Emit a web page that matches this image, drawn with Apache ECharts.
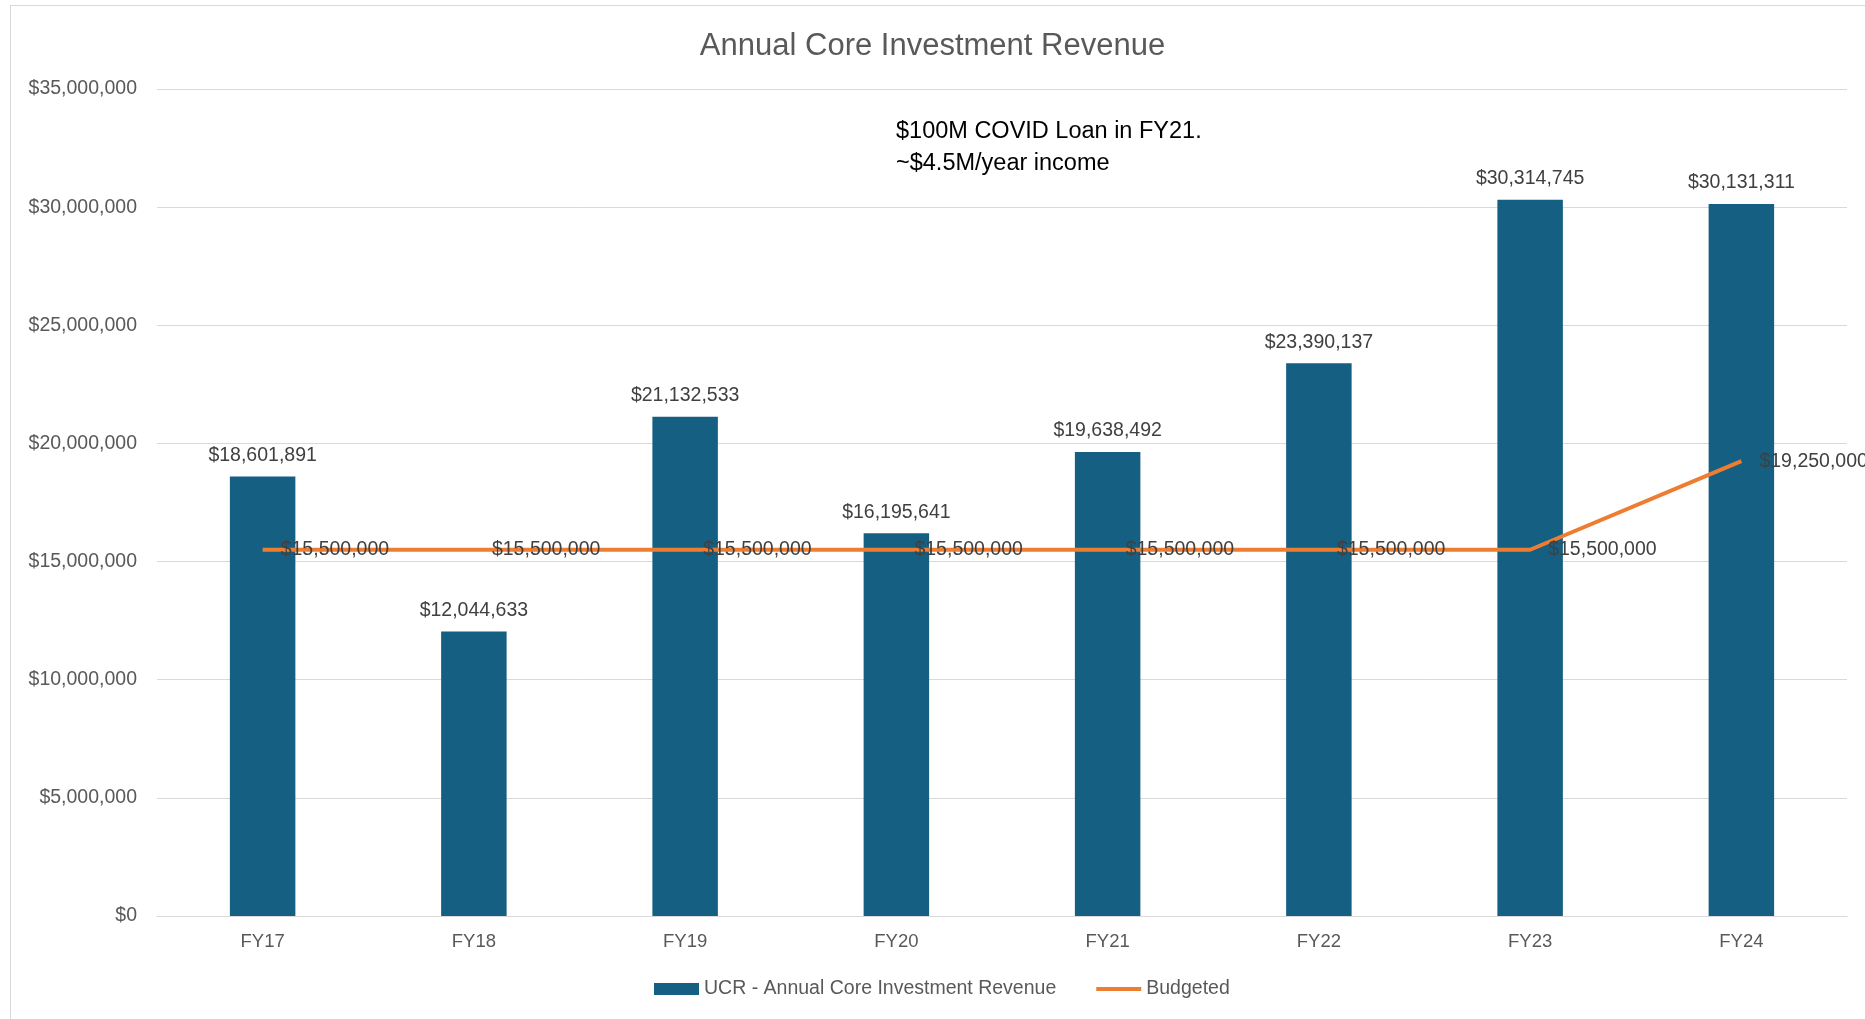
<!DOCTYPE html>
<html><head><meta charset="utf-8">
<script src="https://cdn.jsdelivr.net/npm/echarts@6/dist/echarts.min.js"></script>
<style>
html,body{margin:0;padding:0;background:#fff;}
#c{position:absolute;left:0;top:0;width:1865px;height:1019px;}
#frame{position:absolute;left:10px;top:5px;width:1870px;height:1040px;border:1px solid #d9d9d9;pointer-events:none;}
</style></head>
<body>
<div id="c"></div>
<div id="frame"></div>
<script>
var categories = ['FY17','FY18','FY19','FY20','FY21','FY22','FY23','FY24'];
var revenue = [18601891, 12044633, 21132533, 16195641, 19638492, 23390137, 30314745, 30131311];
var budgeted = [15500000, 15500000, 15500000, 15500000, 15500000, 15500000, 15500000, 19250000];
var yTicks = [0, 5000000, 10000000, 15000000, 20000000, 25000000, 30000000, 35000000];

function money(v){ return '$' + Math.round(v).toString().replace(/\B(?=(\d{3})+(?!\d))/g, ','); }

var chart = echarts.init(document.getElementById('c'), null, {renderer:'canvas'});
var F = 'Liberation Sans, Arial, sans-serif';
chart.setOption({
  animation:false,
  backgroundColor:'#fff',
  title:{text:'Annual Core Investment Revenue', left:'center', top:26,
    textStyle:{fontFamily:F, fontSize:31, fontWeight:'normal', color:'#595959'}},
  grid:{left:157, right:18, top:89, bottom:103},
  legend:{bottom:15, left:649, itemGap:40,
    textStyle:{fontFamily:F, fontSize:19.5, color:'#595959'},
    data:[{name:'UCR - Annual Core Investment Revenue', icon:'rect', itemStyle:{color:'#155F83'}},
          {name:'Budgeted', icon:'path://M0,0 L47,0 L47,4 L0,4 Z', itemStyle:{color:'#ED7D31'}}],
    itemWidth:45, itemHeight:12},
  xAxis:{type:'category', data:categories,
    axisLine:{lineStyle:{color:'#d9d9d9', width:1}}, axisTick:{show:false},
    axisLabel:{fontFamily:F, fontSize:18.5, color:'#595959', margin:16}},
  yAxis:{type:'value', min:0, max:35000000, interval:5000000,
    axisLine:{show:false}, axisTick:{show:false},
    splitLine:{lineStyle:{color:'#d9d9d9', width:1}},
    axisLabel:{fontFamily:F, fontSize:19.5, color:'#595959', margin:20,
      formatter:function(v){ return money(v); }}},
  series:[
    {name:'UCR - Annual Core Investment Revenue', type:'bar', data:revenue, barWidth:'31%',
      itemStyle:{color:'#155F83'},
      label:{show:true, position:'top', distance:11, fontFamily:F, fontSize:19.5, color:'#404040',
        formatter:function(p){ return money(p.value); }}},
    {name:'Budgeted', type:'line', data:budgeted, symbol:'circle', symbolSize:0.1, showSymbol:true,
      lineStyle:{color:'#ED7D31', width:4}, itemStyle:{color:'#ED7D31'},
      labelLayout:{hideOverlap:false},
      label:{show:true, position:'right', distance:18, fontFamily:F, fontSize:19.5, color:'#404040',
        formatter:function(p){ return money(p.value); }}, z:3}
  ],
  graphic:[
    {type:'text', left:896, top:116, style:{text:'$100M COVID Loan in FY21.\n~$4.5M/year income',
      font:'23.5px Liberation Sans, Arial, sans-serif', fill:'#000', lineHeight:32}}
  ]
});
</script>
</body></html>
